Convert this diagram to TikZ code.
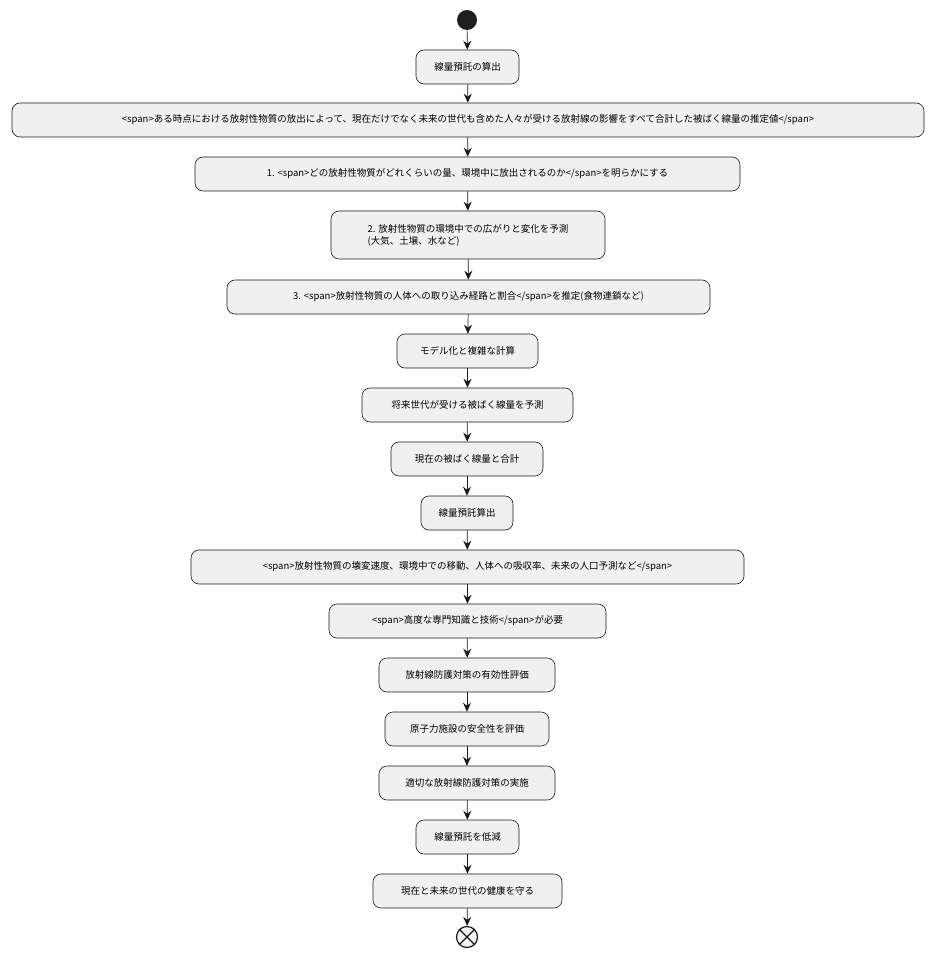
\documentclass[tikz,border=0pt]{standalone}
\usepackage{fontspec}
\setmainfont{Noto Sans CJK JP}
\usetikzlibrary{arrows.meta}
\begin{document}
\begin{tikzpicture}[x=1pt,y=-1pt,
 act/.style={draw=black!90,fill=black!6,rounded corners=8pt,line width=0.6pt,font=\fontsize{9.5}{12}\selectfont,align=left,minimum height=34pt,inner xsep=8pt},
 flow/.style={-{Stealth[length=9pt,width=8pt,inset=3pt]},line width=0.7pt,draw=black!90}]
\useasboundingbox (0,0) rectangle (934,957);
\node[circle,fill=black!88,minimum size=20pt,inner sep=0] (s) at (467,20) {};
\node[act,minimum width=103pt] (b1) at (467.5,67) {線量預託の算出};
\node[act,minimum width=912pt] (b2) at (468,120) {<span>ある時点における放射性物質の放出によって、現在だけでなく未来の世代も含めた人々が受ける放射線の影響をすべて合計した被ばく線量の推定値</span>};
\node[act,minimum width=545pt] (b3) at (467.5,174) {1. <span>どの放射性物質がどれくらいの量、環境中に放出されるのか</span>を明らかにする};
\node[act,minimum width=274pt,minimum height=48pt] (b4) at (468,235) {2. 放射性物質の環境中での広がりと変化を予測\\(大気、土壌、水など)};
\node[act,minimum width=483pt] (b5) at (468.5,297) {3. <span>放射性物質の人体への取り込み経路と割合</span>を推定(食物連鎖など)};
\node[act,minimum width=141pt] (b6) at (467.5,351) {モデル化と複雑な計算};
\node[act,minimum width=211pt] (b7) at (467.5,405) {将来世代が受ける被ばく線量を予測};
\node[act,minimum width=152pt] (b8) at (467,459) {現在の被ばく線量と合計};
\node[act,minimum width=92pt] (b9) at (467,513) {線量預託算出};
\node[act,minimum width=553pt] (b10) at (467.5,567) {<span>放射性物質の壊変速度、環境中での移動、人体への吸収率、未来の人口予測など</span>};
\node[act,minimum width=277pt] (b11) at (467.5,621) {<span>高度な専門知識と技術</span>が必要};
\node[act,minimum width=176pt] (b12) at (467,675) {放射線防護対策の有効性評価};
\node[act,minimum width=164pt] (b13) at (467,729) {原子力施設の安全性を評価};
\node[act,minimum width=176pt] (b14) at (467,783) {適切な放射線防護対策の実施};
\node[act,minimum width=103pt] (b15) at (467.5,837) {線量預託を低減};
\node[act,minimum width=189pt] (b16) at (467.5,891) {現在と未来の世代の健康を守る};
\node[circle,draw=black!90,fill=black!6,line width=1.2pt,minimum size=21pt,inner sep=0] (e) at (467,937) {};
\draw[line width=1.2pt,draw=black!90] (e.45)--(e.225) (e.135)--(e.315);
\foreach \a/\b in {s/b1,b1/b2,b2/b3,b3/b4,b4/b5,b5/b6,b6/b7,b7/b8,b8/b9,b9/b10,b10/b11,b11/b12,b12/b13,b13/b14,b14/b15,b15/b16,b16/e}
 \draw[flow] (\a)--(\b);
\end{tikzpicture}
\end{document}
